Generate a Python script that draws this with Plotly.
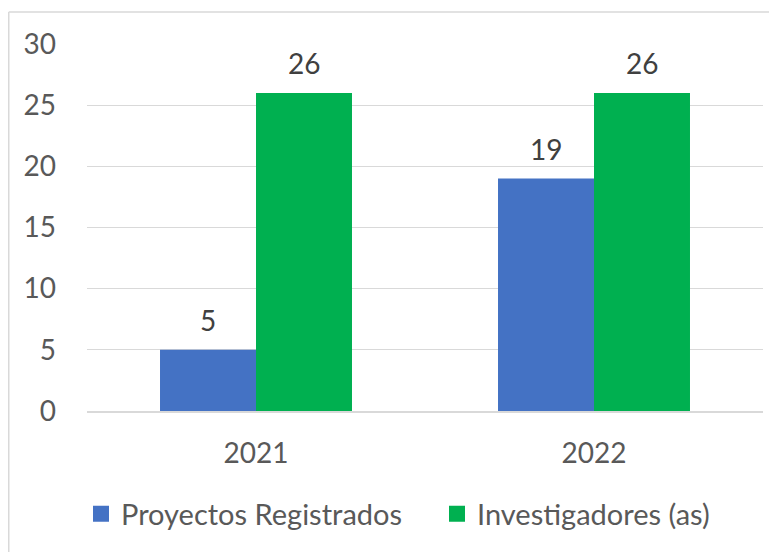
import plotly.graph_objects as go

categories = ["2021", "2022"]
proyectos = [5, 19]
investigadores = [26, 26]
series_names = ["Proyectos Registrados", "Investigadores (as)"]
series_colors = ["#4472C4", "#00B050"]
y_ticks = [0, 5, 10, 15, 20, 25, 30]

FONT = "Lato"
TXT = "#595959"
LBL = "#404040"

# page has an 8px body margin; figure coordinates are page coordinates minus 8
W, H = 769, 544
L, R, T, B = 79, 14, 36, 141
pw = W - L - R
ph = H - T - B
px = lambda x: (x - L) / pw
py = lambda y: (H - B - y) / ph

fig = go.Figure()
for vals, name, col in [(proyectos, series_names[0], series_colors[0]),
                        (investigadores, series_names[1], series_colors[1])]:
    fig.add_trace(go.Bar(x=categories, y=vals, name=name,
                         marker=dict(color=col, line=dict(width=0)),
                         showlegend=False))
for name, col, lg in [(series_names[0], series_colors[0], "legend"),
                      (series_names[1], series_colors[1], "legend2")]:
    # legend entry with a larger square marker
    fig.add_trace(go.Scatter(x=[categories[0]], y=[None], mode="markers", name=name,
                             marker=dict(symbol="square", size=18, color=col),
                             showlegend=True, legend=lg, hoverinfo="skip"))

# value labels above each bar (x given as category index on the category axis)
annotations = []
for vals, shift in [(proyectos, -48), (investigadores, 48)]:
    for i, v in enumerate(vals):
        annotations.append(dict(x=i, y=v, xref="x", yref="y", text=str(v),
                                showarrow=False, xshift=shift, yshift=30,
                                yanchor="middle",
                                font=dict(family=FONT, size=28, color=LBL)))

leg_font = dict(family=FONT, size=29, color=TXT)
fig.update_layout(
    width=W, height=H,
    margin=dict(l=L, r=R, t=T, b=B, pad=0),
    paper_bgcolor="white", plot_bgcolor="white",
    barmode="group", bargap=0.432, bargroupgap=0,
    font=dict(family=FONT, size=28, color=TXT),
    showlegend=True,
    legend=dict(orientation="h", x=px(85 - 8 - 4), xanchor="left",
                y=py(506), yanchor="middle", font=leg_font,
                bgcolor="rgba(0,0,0,0)", itemwidth=30),
    legend2=dict(orientation="h", x=px(442 - 8 - 5), xanchor="left",
                 y=py(506), yanchor="middle", font=leg_font,
                 bgcolor="rgba(0,0,0,0)", itemwidth=30),
    annotations=annotations,
    shapes=[
        dict(type="line", xref="paper", yref="paper", x0=px(0.75), x1=px(800),
             y0=py(4), y1=py(4), line=dict(color="#D9D9D9", width=1.5)),
        dict(type="line", xref="paper", yref="paper", x0=px(0.75), x1=px(0.75),
             y0=py(4), y1=py(600), line=dict(color="#D9D9D9", width=1.5)),
    ],
)
fig.update_yaxes(range=[0, 30], tickvals=y_ticks, showgrid=True,
                 gridcolor="#D9D9D9", gridwidth=1.3, zeroline=False,
                 showline=False, ticks="", ticklabelstandoff=30,
                 tickfont=dict(family=FONT, size=28, color=TXT), fixedrange=True)
fig.update_xaxes(type="category", categoryorder="array", categoryarray=categories,
                 range=[-0.5, len(categories) - 0.5],
                 showline=True, linecolor="#D9D9D9", linewidth=1.5, ticks="",
                 ticklabelstandoff=17,
                 tickfont=dict(family=FONT, size=28, color=TXT))

fig.write_html("out.html")
